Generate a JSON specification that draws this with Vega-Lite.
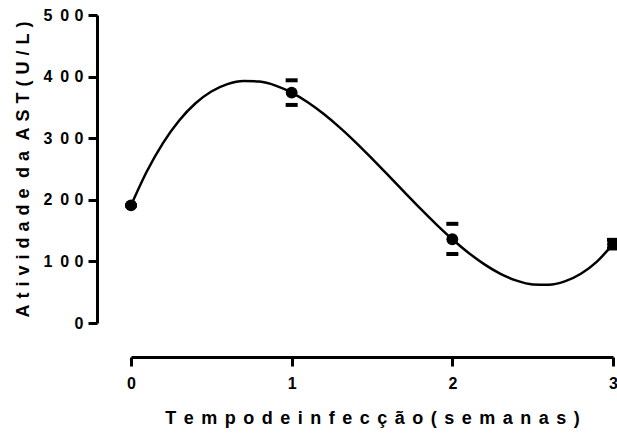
{
  "$schema": "https://vega.github.io/schema/vega-lite/v6.json",
  "autosize": "none",
  "width": 482,
  "height": 308,
  "padding": {"left": 131, "top": 15, "right": 4, "bottom": 111},
  "background": "white",
  "config": {
    "view": {"stroke": null},
    "font": "Liberation Sans"
  },
  "datasets": {
    "curve": [
      {"t": 0.0, "v": 191}, {"t": 0.1, "v": 246.8}, {"t": 0.2, "v": 292.5}, {"t": 0.3, "v": 328.8},
      {"t": 0.4, "v": 356.4}, {"t": 0.5, "v": 375.8}, {"t": 0.6, "v": 387.8}, {"t": 0.7, "v": 392.9},
      {"t": 0.8, "v": 391.9}, {"t": 0.9, "v": 385.4}, {"t": 1.0, "v": 374}, {"t": 1.1, "v": 358.4},
      {"t": 1.2, "v": 339.2}, {"t": 1.3, "v": 317.2}, {"t": 1.4, "v": 292.9}, {"t": 1.5, "v": 266.9},
      {"t": 1.6, "v": 240.1}, {"t": 1.7, "v": 212.9}, {"t": 1.8, "v": 186.0}, {"t": 1.9, "v": 160.2},
      {"t": 2.0, "v": 136}, {"t": 2.1, "v": 114.1}, {"t": 2.2, "v": 95.2}, {"t": 2.3, "v": 79.8},
      {"t": 2.4, "v": 68.7}, {"t": 2.5, "v": 62.6}, {"t": 2.6, "v": 62.0}, {"t": 2.7, "v": 67.5},
      {"t": 2.8, "v": 79.9}, {"t": 2.9, "v": 99.7}, {"t": 3.0, "v": 128}
    ],
    "points": [
      {"t": 0, "mean": 191, "lo": 191, "hi": 191},
      {"t": 1, "mean": 374, "lo": 354, "hi": 394},
      {"t": 2, "mean": 136, "lo": 112, "hi": 161},
      {"t": 3, "mean": 128, "lo": 121, "hi": 135}
    ]
  },
  "layer": [
    {
      "data": {"name": "curve"},
      "mark": {"type": "line", "color": "black", "strokeWidth": 2.5, "interpolate": "monotone", "clip": false},
      "encoding": {
        "x": {
          "field": "t", "type": "quantitative",
          "scale": {"domain": [0, 3], "nice": false, "zero": false},
          "axis": {
            "values": [0, 1, 2, 3], "format": "d", "offset": 34, "grid": false,
            "domainColor": "black", "domainWidth": 3, "tickColor": "black", "tickWidth": 3, "tickSize": 9,
            "labelFont": "Liberation Sans", "labelFontWeight": "bold", "labelFontSize": 16, "labelColor": "black",
            "labelPadding": 9, "labelFlush": false,
            "title": "T\u2004\u200ae\u2004\u200am\u2004\u200ap\u2004\u200ao\u2004\u200ad\u2004\u200ae\u2004\u200ai\u2004\u200an\u2004\u200af\u2004\u200ae\u2004\u200ac\u2004\u200aç\u2004\u200aã\u2004\u200ao\u2004\u200a(\u2004\u200as\u2004\u200ae\u2004\u200am\u2004\u200aa\u2004\u200an\u2004\u200aa\u2004\u200as\u2004\u200a)",
            "titleFont": "Liberation Sans", "titleFontWeight": "bold", "titleFontSize": 18, "titleColor": "black",
            "titlePadding": 18
          }
        },
        "y": {
          "field": "v", "type": "quantitative",
          "scale": {"domain": [0, 500], "nice": false},
          "axis": {
            "values": [0, 100, 200, 300, 400, 500], "offset": 34, "grid": false,
            "labelExpr": "datum.value == 0 ? '0' : floor(datum.value / 100) + '\u20020\u20040'",
            "domainColor": "black", "domainWidth": 3, "tickColor": "black", "tickWidth": 3, "tickSize": 9,
            "labelFont": "Liberation Sans", "labelFontWeight": "bold", "labelFontSize": 16, "labelColor": "black",
            "labelPadding": 5, "labelFlush": false,
            "title": "A\u2004t\u2004i\u2004v\u2004i\u2004d\u2004a\u2004d\u2004e\u2004\u2005d\u2004a\u2004\u2005A\u2004S\u2004T\u2004(\u2004U\u2004/\u2004L\u2004)",
            "titleFont": "Liberation Sans", "titleFontWeight": "bold", "titleFontSize": 18, "titleColor": "black",
            "titlePadding": 10
          }
        }
      }
    },
    {
      "data": {"name": "points"},
      "mark": {"type": "tick", "orient": "horizontal", "color": "black", "size": 12, "thickness": 4, "opacity": 1, "clip": false},
      "encoding": {
        "x": {"field": "t", "type": "quantitative"},
        "y": {"field": "hi", "type": "quantitative"}
      }
    },
    {
      "data": {"name": "points"},
      "mark": {"type": "tick", "orient": "horizontal", "color": "black", "size": 12, "thickness": 4, "opacity": 1, "clip": false},
      "encoding": {
        "x": {"field": "t", "type": "quantitative"},
        "y": {"field": "lo", "type": "quantitative"}
      }
    },
    {
      "data": {"name": "points"},
      "mark": {"type": "point", "filled": true, "shape": "circle", "color": "black", "size": 140, "opacity": 1, "clip": false},
      "encoding": {
        "x": {"field": "t", "type": "quantitative"},
        "y": {"field": "mean", "type": "quantitative"}
      }
    }
  ]
}
